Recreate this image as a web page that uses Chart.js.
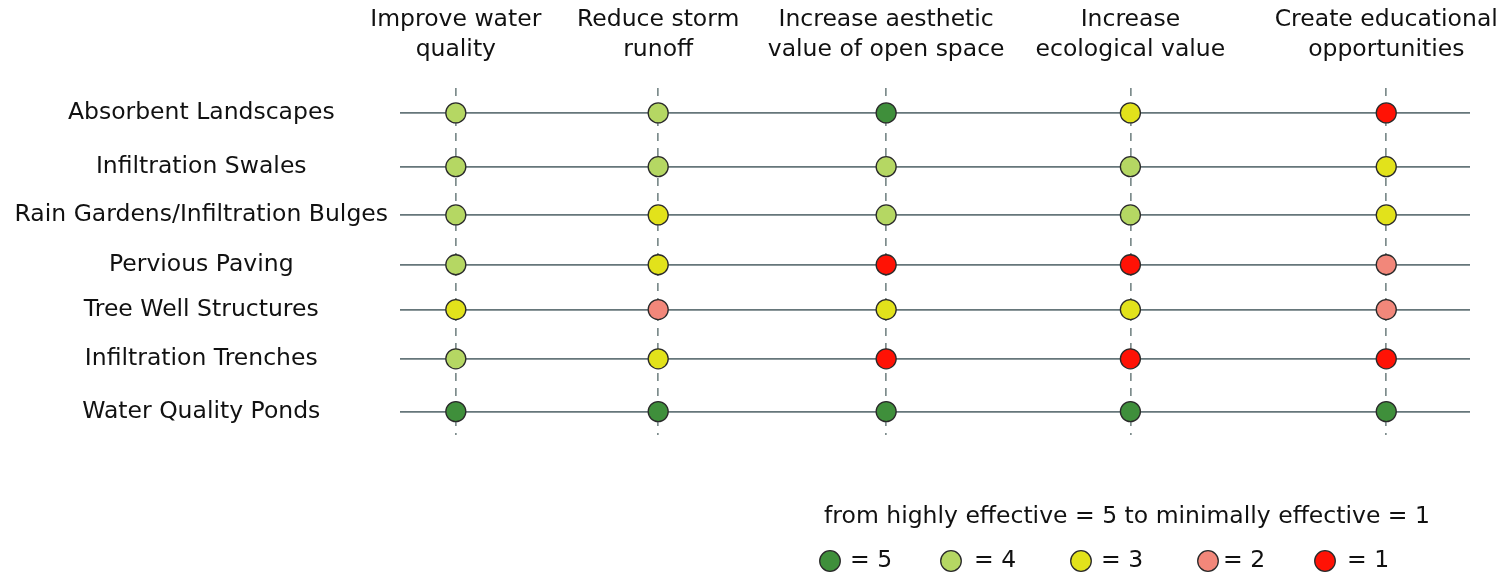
<!DOCTYPE html>
<html>
<head>
<meta charset="utf-8">
<script src="https://cdn.jsdelivr.net/npm/chart.js@4/dist/chart.umd.min.js"></script>
<style>
  html, body { margin: 0; padding: 0; background: #fff; }
  #wrap { width: 1505px; height: 575px; }
</style>
</head>
<body>
<div id="wrap"><canvas id="grafico" width="1505" height="575"></canvas></div>
<script>
const practices = [
  "Absorbent Landscapes",
  "Infiltration Swales",
  "Rain Gardens/Infiltration Bulges",
  "Pervious Paving",
  "Tree Well Structures",
  "Infiltration Trenches",
  "Water Quality Ponds"
];
const goals = [
  ["Improve water", "quality"],
  ["Reduce storm", "runoff"],
  ["Increase aesthetic", "value of open space"],
  ["Increase", "ecological value"],
  ["Create educational", "opportunities"]
];
// column / row positions on the axes (not evenly spaced in the original)
const goalPos = [1, 1.87, 2.85, 3.9, 5];
const rowPos = [1, 2.08, 3.05, 4.05, 4.95, 5.94, 7];

// scores per goal, one value per practice (5 = highly effective, 1 = minimally)
const waterQuality = [4, 4, 4, 4, 3, 4, 5];
const stormRunoff  = [4, 4, 3, 3, 2, 3, 5];
const aesthetic    = [5, 4, 4, 1, 3, 1, 5];
const ecological   = [3, 4, 4, 1, 3, 1, 5];
const educational  = [1, 3, 3, 2, 2, 1, 5];

const ratings = [5, 4, 3, 2, 1];
const ratingColors = { 5: "#3f8f3b", 4: "#b5d763", 3: "#e2e21b", 2: "#f2877a", 1: "#ff1205" };

const fuente = "'DejaVu Sans', sans-serif";
const tam = 23.5;
const columnas = [waterQuality, stormRunoff, aesthetic, ecological, educational];

const datasets = columnas.map((col, j) => ({
  label: goals[j].join(" "),
  data: col.map((v, i) => ({ x: goalPos[j], y: rowPos[i], score: v })),
  pointBackgroundColor: col.map(v => ratingColors[v]),
  pointBorderColor: "#2a2a2a",
  pointBorderWidth: 1.3,
  pointRadius: 10,
  pointHoverRadius: 10
}));

// legend at the bottom, drawn by hand
const leyenda = {
  id: "leyenda",
  afterDraw(chart) {
    const ctx = chart.ctx;
    ctx.save();
    ctx.font = tam + "px " + fuente;
    ctx.fillStyle = "#111";
    ctx.textBaseline = "middle";
    ctx.textAlign = "center";
    ctx.fillText("from highly effective = 5 to minimally effective = 1", 1127, 517);
    const xs = [830, 951, 1081, 1208, 1325];
    const gap = [20, 23, 20, 15, 22];
    ratings.forEach((r, k) => {
      ctx.beginPath();
      ctx.arc(xs[k], 561, 10.3, 0, Math.PI * 2);
      ctx.fillStyle = ratingColors[r];
      ctx.fill();
      ctx.lineWidth = 1.3;
      ctx.strokeStyle = "#2a2a2a";
      ctx.stroke();
      ctx.fillStyle = "#111";
      ctx.textAlign = "left";
      ctx.fillText("= " + r, xs[k] + gap[k], 561);
    });
    ctx.restore();
  }
};

new Chart(document.getElementById("grafico"), {
  type: "scatter",
  data: { datasets },
  options: {
    responsive: false,
    animation: false,
    layout: { padding: { left: 0, right: 35, top: 0, bottom: 140 } },
    plugins: { legend: { display: false }, tooltip: { enabled: false } },
    scales: {
      x: {
        type: "linear",
        min: 0.76,
        max: 5.36,
        afterBuildTicks: s => { s.ticks = goalPos.map(v => ({ value: v })); },
        ticks: { display: false },
        grid: { color: "#7d8c8c", lineWidth: 1.7, drawTicks: false },
        border: { display: false, dash: [8, 7] }
      },
      x2: {
        type: "linear",
        position: "top",
        min: 0.76,
        max: 5.36,
        afterBuildTicks: s => { s.ticks = goalPos.map(v => ({ value: v })); },
        afterFit: s => { s.height = 88; },
        ticks: {
          autoSkip: false,
          maxRotation: 0,
          padding: 0,
          color: "#111",
          font: { family: fuente, size: tam, lineHeight: 1.28 },
          callback: (v, i) => goals[i]
        },
        grid: { display: false, drawTicks: true, tickLength: 23 },
        border: { display: false }
      },
      y: {
        type: "linear",
        reverse: true,
        min: 0.5,
        max: 7.47,
        afterBuildTicks: s => { s.ticks = rowPos.map(v => ({ value: v })); },
        afterFit: s => { s.width = 400; },
        ticks: {
          autoSkip: false,
          crossAlign: "center",
          padding: 12,
          color: "#111",
          font: { family: fuente, size: tam },
          callback: (v, i) => practices[i]
        },
        grid: { color: "#66767a", lineWidth: 1.7, drawTicks: false },
        border: { display: false }
      }
    }
  },
  plugins: [leyenda]
});
</script>
</body>
</html>
